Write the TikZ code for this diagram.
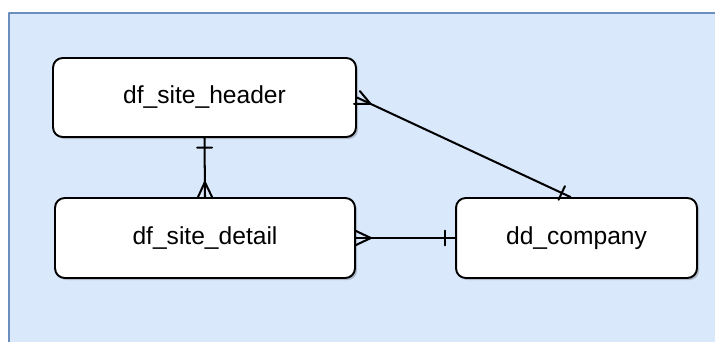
\documentclass[tikz,border=0pt]{standalone}
\usepackage{fontspec}
\setmainfont{Liberation Sans}
\usetikzlibrary{arrows.meta,shadows}

% crow's foot (many) and bar (one) ends
\pgfdeclarearrow{
  name=Many,
  parameters={\the\pgfarrowlength,\the\pgfarrowwidth},
  setup code={
    \pgfarrowssettipend{0pt}
    \pgfarrowssetlineend{0pt}
    \pgfarrowssetbackend{-\pgfarrowlength}
    \pgfarrowshullpoint{0pt}{0pt}
    \pgfarrowssavethe\pgfarrowlength
    \pgfarrowssavethe\pgfarrowwidth
  },
  drawing code={
    \pgfpathmoveto{\pgfpoint{0pt}{.5\pgfarrowwidth}}
    \pgfpathlineto{\pgfpoint{-\pgfarrowlength}{0pt}}
    \pgfpathlineto{\pgfpoint{0pt}{-.5\pgfarrowwidth}}
    \pgfusepathqstroke
  },
  defaults={length=8.5pt, width=8pt}
}
\pgfdeclarearrow{
  name=One,
  parameters={\the\pgfarrowlength,\the\pgfarrowwidth},
  setup code={
    \pgfarrowssettipend{0pt}
    \pgfarrowssetlineend{0pt}
    \pgfarrowssetbackend{-\pgfarrowlength}
    \pgfarrowshullpoint{0pt}{0pt}
    \pgfarrowssavethe\pgfarrowlength
    \pgfarrowssavethe\pgfarrowwidth
  },
  drawing code={
    \pgfpathmoveto{\pgfpoint{-\pgfarrowlength}{.5\pgfarrowwidth}}
    \pgfpathlineto{\pgfpoint{-\pgfarrowlength}{-.5\pgfarrowwidth}}
    \pgfusepathqstroke
  },
  defaults={length=5.5pt, width=8.5pt}
}

\definecolor{bgblue}{HTML}{DAE8FC}
\definecolor{bgline}{HTML}{6C8EBF}

\begin{document}
\begin{tikzpicture}[x=0.02cm, y=-0.02cm, line cap=round, line join=round,
    entity/.style={draw, line width=1.1pt, fill=white, rounded corners=5.5pt,
      font=\fontsize{14}{17}\selectfont,
      drop shadow={shadow xshift=1.2pt, shadow yshift=-1.2pt, opacity=0.2, fill=black}},
    rel/.style={line width=1.15pt}]
    \useasboundingbox (0, 0) rectangle (715, 341);

    % background
    \draw[fill=bgblue, draw=bgline, line width=1pt] (9, 13) rectangle (740, 370);

    \node[entity, minimum width=6.06cm, minimum height=1.58cm] (header) at (204.5, 97.5) {df\_site\_header};
    \node[entity, minimum width=6cm, minimum height=1.6cm] (detail) at (205, 238) {df\_site\_detail};
    \node[entity, minimum width=4.82cm, minimum height=1.6cm] (company) at (576.5, 238) {dd\_company};

    % relations
    \draw[rel, One-Many] (header.south) -- (detail.north);
    \draw[rel, Many-One] (header.east) -- ([xshift=-6*0.02cm]company.north);
    \draw[rel, Many-One] (detail.east) -- (company.west);
\end{tikzpicture}
\end{document}
